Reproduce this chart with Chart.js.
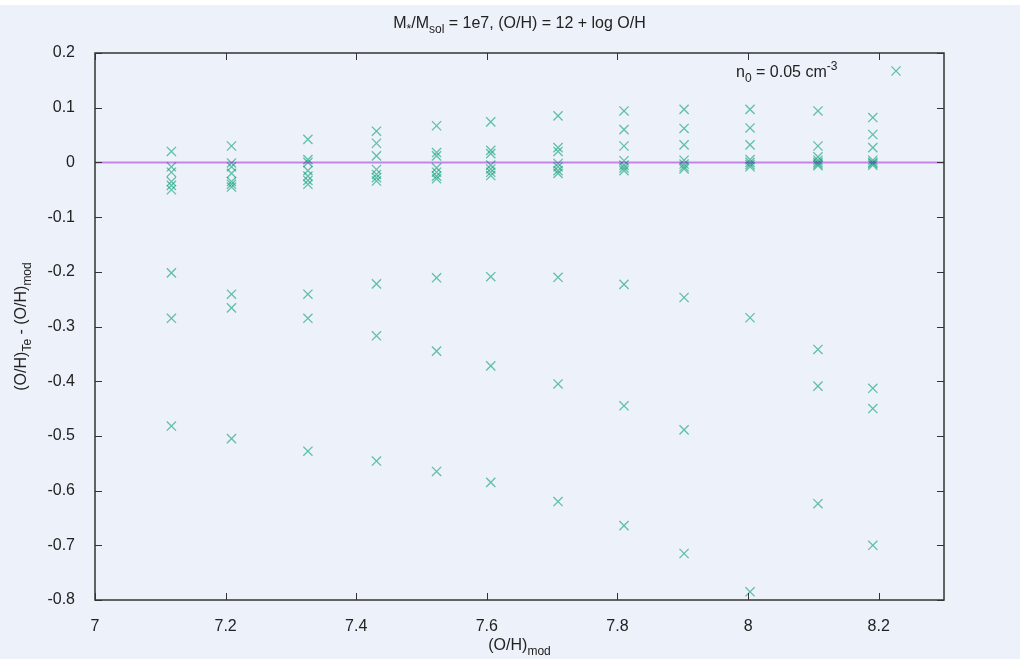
<!DOCTYPE html>
<html>
<head>
    <title>O/H Te vs mod</title>
    <script src="https://cdn.jsdelivr.net/npm/chart.js"></script>
    <style>
        body {
            margin: 0;
            padding: 0;
            overflow: hidden;
            background-color: #ffffff;
        }
        #chart-container {
            position: fixed;
            top: 0;
            left: 0;
            width: 1020px;
            height: 659px;
        }
    </style>
</head>
<body>
    <div id="chart-container">
        <canvas id="myChart"></canvas>
    </div>

    <script>
        // (O/H)_mod de cada columna de modelos
        const ohMod = [7.117, 7.209, 7.326, 7.431, 7.523, 7.606, 7.709, 7.810, 7.902, 8.003, 8.107, 8.191];

        // (O/H)_Te - (O/H)_mod, una lista por columna
        const diffByCol = [
            [0.02, -0.008, -0.018, -0.035, -0.042, -0.05, -0.202, -0.285, -0.482],
            [0.03, -0.001, -0.008, -0.02, -0.035, -0.04, -0.045, -0.241, -0.266, -0.505],
            [0.042, 0.005, 0.0, -0.015, -0.025, -0.033, -0.04, -0.241, -0.285, -0.528],
            [0.057, 0.035, 0.012, -0.013, -0.022, -0.028, -0.034, -0.222, -0.317, -0.546],
            [0.067, 0.018, 0.012, -0.01, -0.018, -0.025, -0.03, -0.211, -0.345, -0.565],
            [0.074, 0.022, 0.016, -0.005, -0.012, -0.018, -0.024, -0.209, -0.372, -0.585],
            [0.085, 0.027, 0.02, -0.002, -0.008, -0.015, -0.02, -0.21, -0.405, -0.62],
            [0.094, 0.06, 0.03, 0.003, -0.005, -0.01, -0.015, -0.223, -0.445, -0.664],
            [0.097, 0.062, 0.032, 0.004, -0.003, -0.008, -0.012, -0.247, -0.489, -0.715],
            [0.097, 0.063, 0.032, 0.005, 0.0, -0.004, -0.008, -0.284, -0.785],
            [0.094, 0.03, 0.01, 0.004, 0.0, -0.003, -0.006, -0.342, -0.409, -0.624],
            [0.082, 0.051, 0.027, 0.004, 0.0, -0.002, -0.005, -0.413, -0.45, -0.70]
        ];

        const xTicks = [7, 7.2, 7.4, 7.6, 7.8, 8, 8.2];
        const yTicks = [-0.8, -0.7, -0.6, -0.5, -0.4, -0.3, -0.2, -0.1, 0, 0.1, 0.2];
        const zeroLineX = [7, 8.3];

        const FONT = "'Liberation Sans', Arial, sans-serif";
        const crossColor = 'rgba(0, 158, 115, 0.6)';

        const points = [];
        ohMod.forEach((x, i) => diffByCol[i].forEach(y => points.push({ x: x, y: y })));

        // texto con subíndices / superíndices: [texto, -1 sub | 0 normal | 1 sup]
        function drawRich(ctx, parts, x, y, size, align) {
            const small = Math.round(size * 0.75);
            let total = 0;
            parts.forEach(p => {
                ctx.font = (p[1] === 0 ? size : small) + 'px ' + FONT;
                total += ctx.measureText(p[0]).width;
            });
            let cx = align === 'center' ? x - total / 2 : (align === 'right' ? x - total : x);
            ctx.textAlign = 'left';
            ctx.textBaseline = 'alphabetic';
            parts.forEach(p => {
                ctx.font = (p[1] === 0 ? size : small) + 'px ' + FONT;
                const dy = p[1] === -1 ? size * 0.3 : (p[1] === 1 ? -size * 0.45 : 0);
                ctx.fillText(p[0], cx, y + dy);
                cx += ctx.measureText(p[0]).width;
            });
        }

        function drawCross(ctx, x, y, r) {
            ctx.beginPath();
            ctx.moveTo(x - r, y - r); ctx.lineTo(x + r, y + r);
            ctx.moveTo(x - r, y + r); ctx.lineTo(x + r, y - r);
            ctx.stroke();
        }

        const gnuplotFrame = {
            id: 'gnuplotFrame',
            beforeDraw(chart) {
                const c = chart.ctx;
                c.save();
                c.fillStyle = '#edf1f9';
                c.fillRect(0, 5, chart.width, chart.height - 5);
                c.restore();
            },
            afterDraw(chart) {
                const c = chart.ctx;
                const a = chart.chartArea;
                const xs = chart.scales.x, ys = chart.scales.y;
                c.save();
                c.strokeStyle = '#333333';
                c.lineWidth = 1.5;
                c.strokeRect(a.left, a.top, a.right - a.left, a.bottom - a.top);
                c.lineWidth = 1;
                c.beginPath();
                xTicks.forEach(v => {
                    const px = Math.round(xs.getPixelForValue(v)) + 0.5;
                    c.moveTo(px, a.bottom); c.lineTo(px, a.bottom - 7);
                    c.moveTo(px, a.top); c.lineTo(px, a.top + 7);
                });
                yTicks.forEach(v => {
                    const py = Math.round(ys.getPixelForValue(v)) + 0.5;
                    c.moveTo(a.left, py); c.lineTo(a.left + 7, py);
                    c.moveTo(a.right, py); c.lineTo(a.right - 7, py);
                });
                c.stroke();

                c.fillStyle = '#222222';
                const mid = (a.left + a.right) / 2;
                drawRich(c, [['M', 0], ['*', -1], ['/M', 0], ['sol', -1], [' = 1e7, (O/H) = 12 + log O/H', 0]], mid, 28, 16, 'center');
                drawRich(c, [['(O/H)', 0], ['mod', -1]], mid, 650, 16, 'center');
                c.save();
                c.translate(26, (a.top + a.bottom) / 2);
                c.rotate(-Math.PI / 2);
                drawRich(c, [['(O/H)', 0], ['Te', -1], [' - (O/H)', 0], ['mod', -1]], 0, 0, 16, 'center');
                c.restore();

                // leyenda
                drawRich(c, [['n', 0], ['0', -1], [' = 0.05 cm', 0], ['-3', 1]], 736, 77, 16, 'left');
                c.strokeStyle = crossColor;
                c.lineWidth = 1.3;
                drawCross(c, 896, 71, 4.6);
                c.restore();
            }
        };

        Chart.defaults.font.family = FONT;
        Chart.defaults.color = '#222222';

        new Chart(document.getElementById('myChart'), {
            type: 'scatter',
            data: {
                datasets: [{
                    type: 'line',
                    data: zeroLineX.map(x => ({ x: x, y: 0 })),
                    borderColor: 'rgba(148, 0, 211, 0.45)',
                    borderWidth: 2,
                    pointRadius: 0,
                    fill: false
                }, {
                    data: points,
                    pointStyle: 'crossRot',
                    pointRadius: 6.5,
                    borderColor: crossColor,
                    borderWidth: 1.3,
                    backgroundColor: crossColor
                }]
            },
            options: {
                responsive: true,
                maintainAspectRatio: false,
                animation: false,
                layout: {
                    padding: { top: 53, right: 76, bottom: 0, left: 0 }
                },
                plugins: {
                    legend: { display: false },
                    tooltip: { enabled: false }
                },
                scales: {
                    x: {
                        type: 'linear',
                        min: 7,
                        max: 8.3,
                        afterBuildTicks: s => { s.ticks = xTicks.map(v => ({ value: v })); },
                        afterFit: s => { s.height = 59; },
                        grid: { display: false },
                        border: { display: false },
                        ticks: {
                            padding: 9,
                            font: { size: 16 },
                            color: '#222222',
                            maxRotation: 0,
                            callback: v => String(+v.toFixed(1))
                        }
                    },
                    y: {
                        min: -0.8,
                        max: 0.2,
                        afterBuildTicks: s => { s.ticks = yTicks.map(v => ({ value: v })); },
                        afterFit: s => { s.width = 95; },
                        grid: { display: false },
                        border: { display: false },
                        ticks: {
                            padding: 12,
                            font: { size: 16 },
                            color: '#222222',
                            callback: v => String(+v.toFixed(1))
                        }
                    }
                }
            },
            plugins: [gnuplotFrame]
        });
    </script>
</body>
</html>
